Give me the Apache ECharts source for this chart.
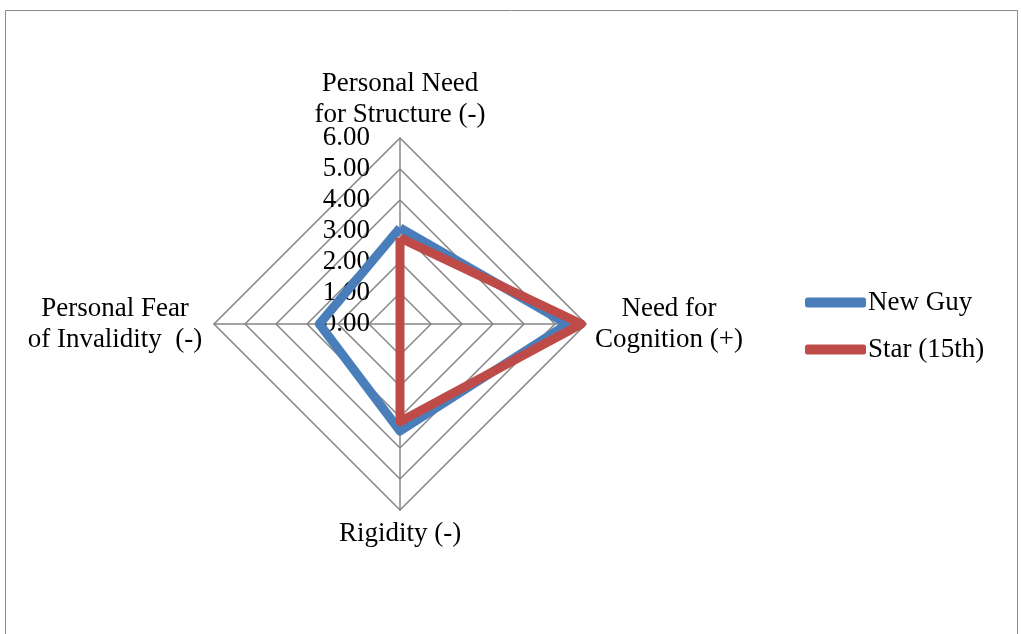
<!DOCTYPE html>
<html>
<head>
<meta charset="utf-8">
<script src="https://cdn.jsdelivr.net/npm/echarts@6/dist/echarts.min.js"></script>
<style>
  html, body { margin: 0; padding: 0; background: #fff; }
  #chart { width: 1021px; height: 634px; }
</style>
</head>
<body>
<div id="chart"></div>
<script>
// Dimensions, listed counter-clockwise starting at the top
const dimensions = [
  'Personal Need\nfor Structure (-)',
  'Personal Fear\nof Invalidity  (-)',
  'Rigidity (-)',
  'Need for\nCognition (+)'
];
const dimensionKeys = ['top', 'left', 'bottom', 'right'];
const seriesNames = ['New Guy', 'Star (15th)'];
const newGuy = [3.1, 2.6, 3.45, 5.4];
const star = [2.78, 0, 3.15, 5.85];
const scaleMax = 6;
const scaleStep = 1;

const FONT = 'Liberation Serif';
const FS = 27;
const chart = echarts.init(document.getElementById('chart'));

const nameStyle = (w) => ({ width: w, align: 'center', lineHeight: 31, fontSize: FS, fontFamily: FONT, color: '#000' });
const nameRich = {
  top: nameStyle(200),
  left: nameStyle(182),
  bottom: nameStyle(130),
  right: nameStyle(150)
};

chart.setOption({
  animation: false,
  backgroundColor: '#fff',
  graphic: [{
    type: 'rect',
    shape: { x: 5.5, y: 10.5, width: 1012, height: 640 },
    style: { fill: 'none', stroke: '#8a8a8a', lineWidth: 1 },
    silent: true
  }],
  legend: {
    orient: 'vertical',
    left: 800,
    top: 282,
    itemGap: 16,
    itemWidth: 61,
    itemHeight: 10,
    icon: 'roundRect',
    textStyle: { fontFamily: FONT, fontSize: FS, lineHeight: 31, color: '#000', padding: [0, 0, 0, -3] },
    data: seriesNames
  },
  radar: {
    center: [400, 324],
    radius: 186,
    startAngle: 90,
    shape: 'polygon',
    splitNumber: scaleMax / scaleStep,
    indicator: dimensions.map(n => ({ name: n, max: scaleMax, min: 0 })),
    axisName: {
      formatter: (name) => {
        const key = dimensionKeys[dimensions.indexOf(name)];
        return name.split('\n').map(l => '{' + key + '|' + l + '}').join('\n');
      },
      rich: nameRich
    },
    nameGap: 8,
    axisLine: { lineStyle: { color: '#868686', width: 1.5 } },
    splitLine: { lineStyle: { color: '#868686', width: 1.5 } },
    splitArea: { show: false },
    axisTick: { show: false },
    axisLabel: { show: false }
  },
  // Polar overlay that only carries the value scale labels along the top axis
  polar: { center: [400, 324], radius: 186 },
  angleAxis: { show: false, startAngle: 90, min: 0, max: 360 },
  radiusAxis: {
    min: 0, max: scaleMax, interval: scaleStep,
    axisLine: { show: false },
    axisTick: { show: false },
    splitLine: { show: false },
    axisLabel: {
      show: true,
      formatter: v => v.toFixed(2),
      fontFamily: FONT, fontSize: FS, color: '#000', margin: 30
    }
  },
  series: [{
    type: 'radar',
    symbol: 'none',
    z: 3,
    data: [
      { name: seriesNames[0], value: newGuy,
        lineStyle: { color: '#4a7ebb', width: 9, join: 'round' }, itemStyle: { color: '#4a7ebb' } },
      { name: seriesNames[1], value: star,
        lineStyle: { color: '#be4b48', width: 9, join: 'round' }, itemStyle: { color: '#be4b48' } }
    ]
  }]
});
</script>
</body>
</html>
